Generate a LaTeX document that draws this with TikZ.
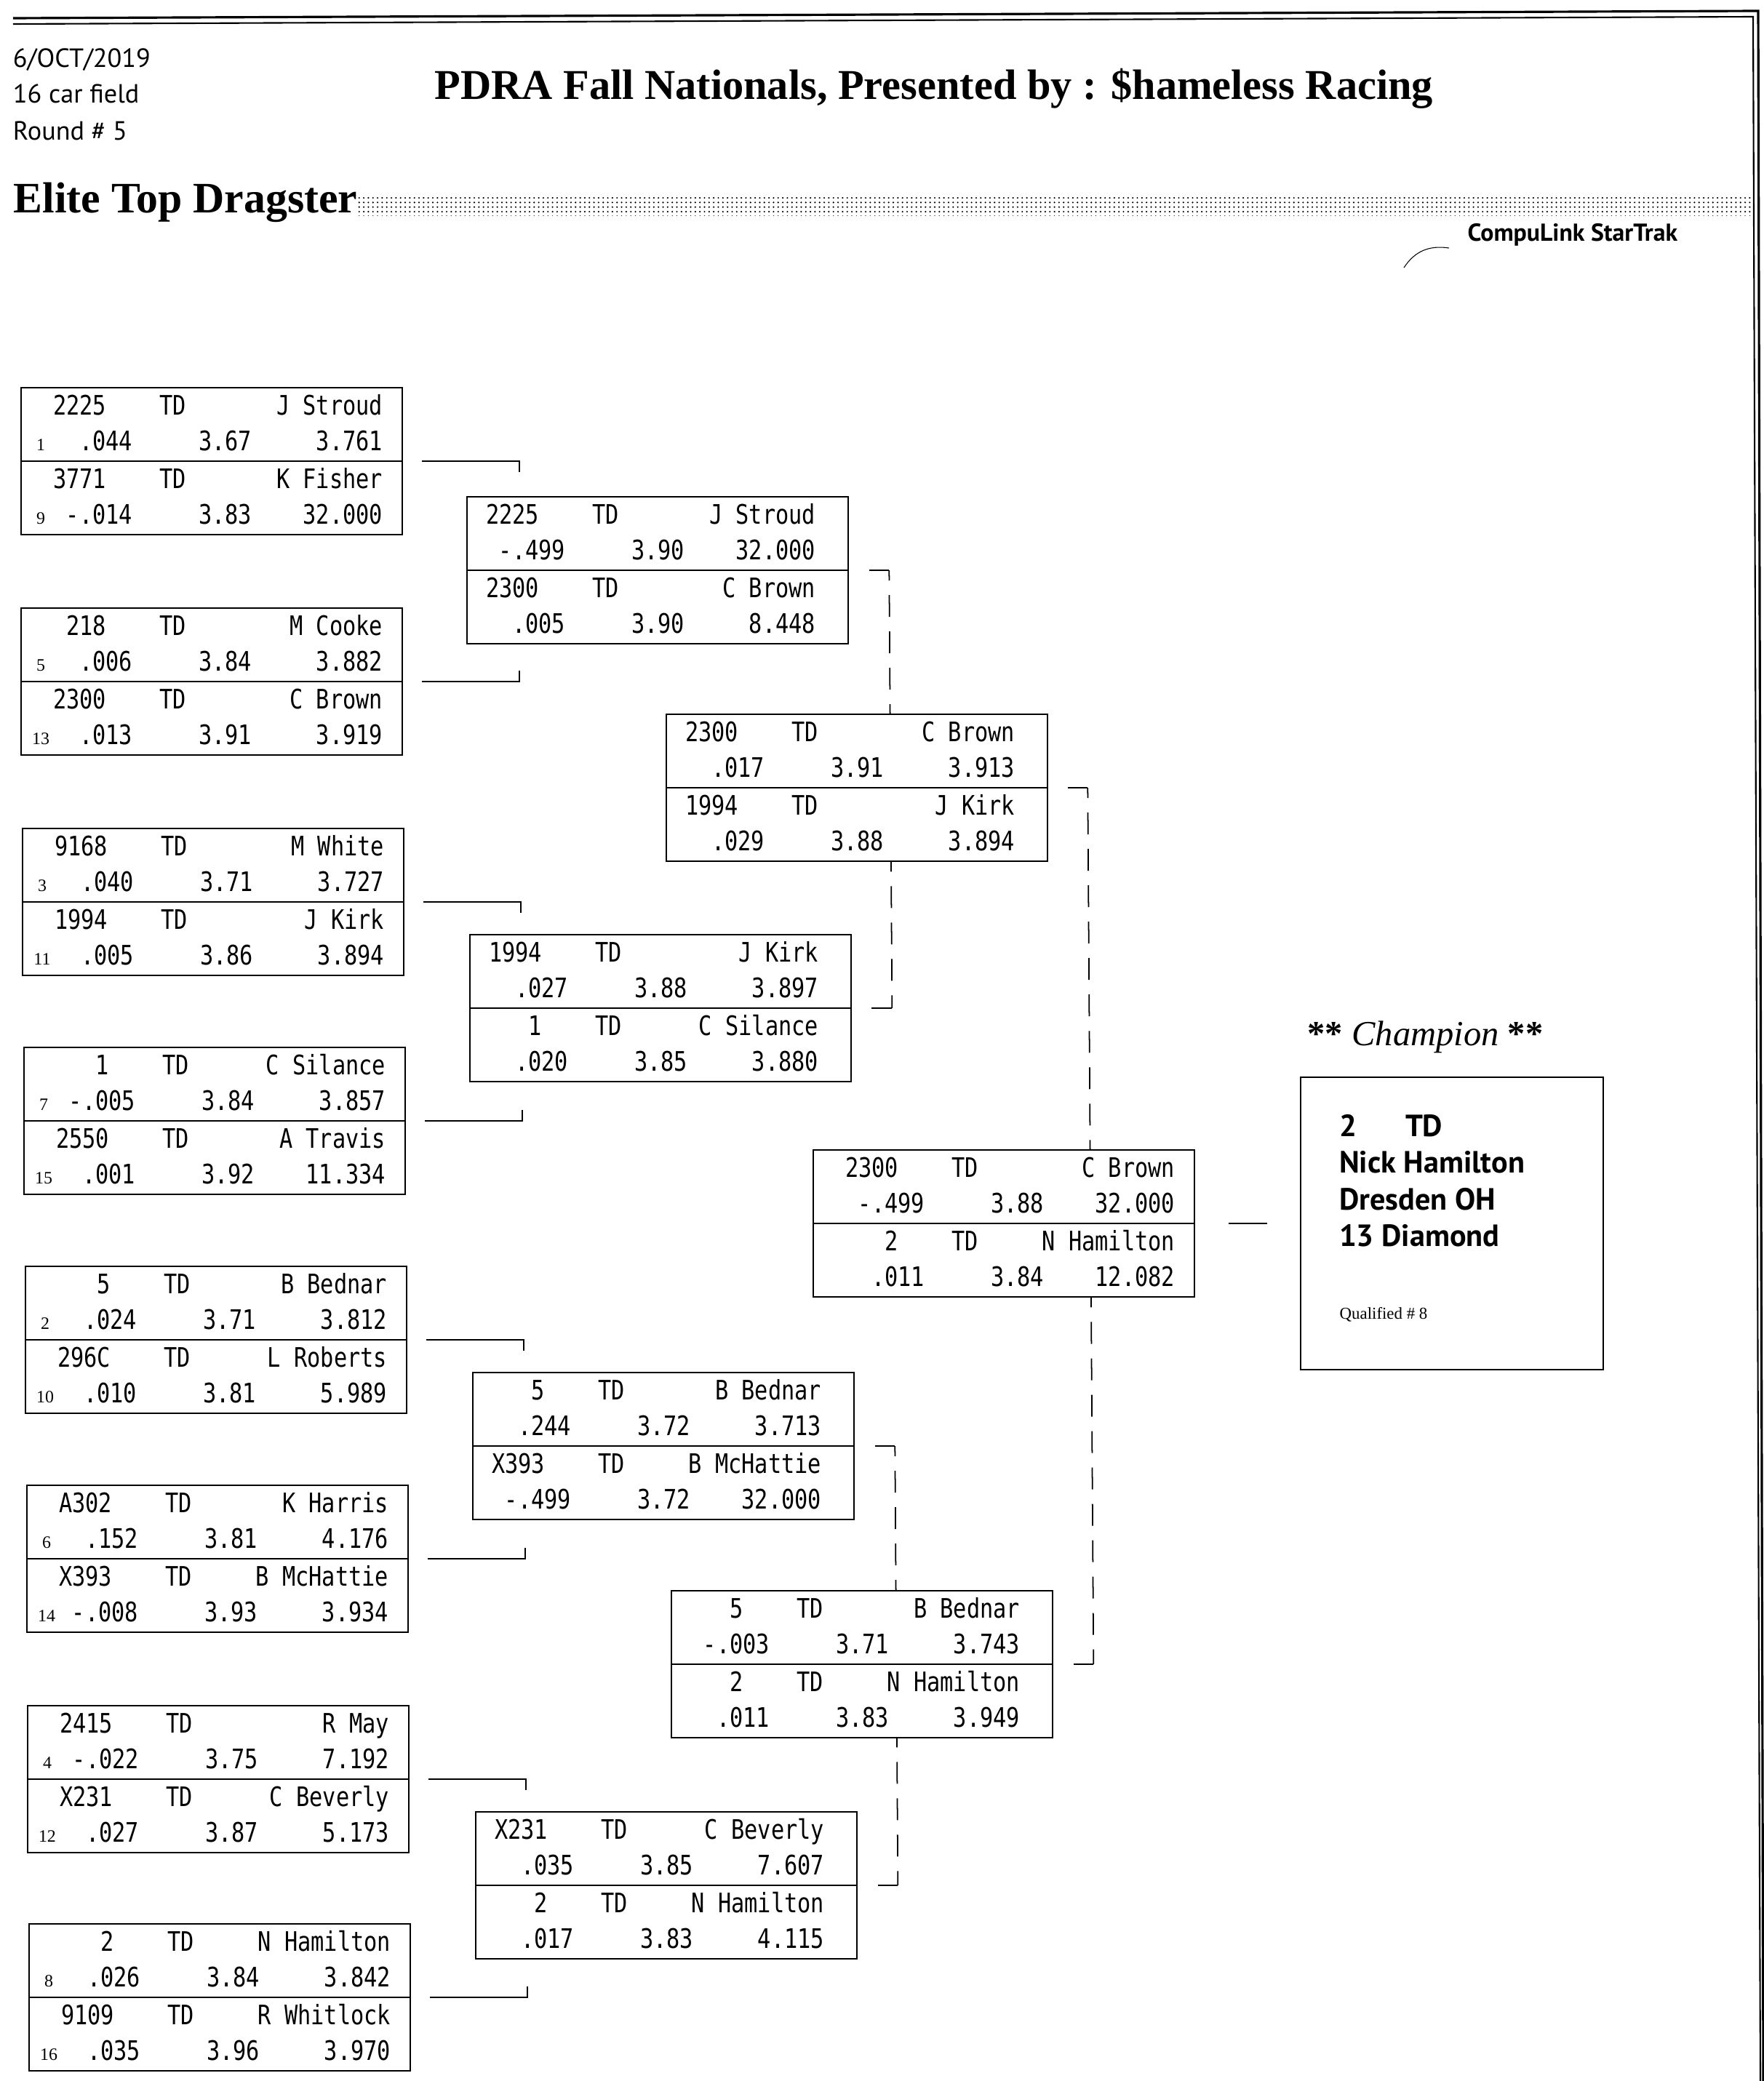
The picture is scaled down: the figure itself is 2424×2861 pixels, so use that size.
\documentclass[tikz,border=0pt]{standalone}
\usepackage{fontspec}
\setmainfont{Liberation Serif}
\newfontfamily\boxfont[FakeStretch=0.82]{DejaVu Sans Mono}
\newfontfamily\hdrfont{PT Sans}
\usetikzlibrary{calc,patterns.meta}

\tikzset{
  boxst/.style={draw, fill=white, line width=0.6pt, minimum width=5.24cm, minimum height=2.02cm, inner sep=0pt, outer sep=0pt},
  divst/.style={line width=0.6pt},
  cell/.style={inner sep=0pt, outer sep=0pt, font=\boxfont\fontsize{10.5}{12}\selectfont},
  seedst/.style={inner sep=0pt, outer sep=0pt, anchor=base, font=\fontsize{6.8}{8}\selectfont},
  conn/.style={line width=0.5pt},
  dconn/.style={line width=0.5pt, dash pattern=on 3mm off 2mm, dash phase=1.6mm},
  hdr/.style={inner sep=0pt, outer sep=0pt, anchor=base west, font=\hdrfont\fontsize{10.3}{12}\selectfont},
  champtxt/.style={inner sep=0pt, outer sep=0pt, anchor=base west, font=\hdrfont\bfseries\fontsize{12}{14}\selectfont},
}

\def\xs{0}
% box: name, x, y (top-left in pixels)
\newcommand{\rbox}[3]{%
  \node[boxst, anchor=north west] (#1) at (#2,#3) {};
  \draw[divst] (#1.west) -- (#1.east);
}
% entry: box, half (0/1), car, driver, rt, et, time
\newcommand{\entry}[7]{%
  \coordinate (#1h#2) at ($(#1.north west)+(0,#2*101)$);
  \node[cell, anchor=base east] (#1h#2car) at ($(#1h#2)+(\xs+117,37)$) {#3};
  \node[cell, anchor=base west] (#1h#2cls) at ($(#1h#2)+(\xs+190,37)$) {TD};
  \node[cell, anchor=base east] (#1h#2drv) at ($(#1h#2)+(\xs+497,37)$) {#4};
  \node[cell, anchor=base east] (#1h#2rt) at ($(#1h#2)+(\xs+153,86)$) {#5};
  \node[cell, anchor=base east] (#1h#2et) at ($(#1h#2)+(\xs+317,86)$) {#6};
  \node[cell, anchor=base east] (#1h#2tm) at ($(#1h#2)+(\xs+497,86)$) {#7};
}
% seeded entry: box, half, seed, car, driver, rt, et, time
\newcommand{\sentry}[8]{%
  \entry{#1}{#2}{#4}{#5}{#6}{#7}{#8}%
  \node[seedst] (#1h#2seed) at ($(#1h#2)+(27,86)$) {#3};
}
% first-round bracket end: box, tick direction (+1 down / -1 up)
\newcommand{\rconn}[2]{%
  \draw[conn] ($(#1.east)+(27,0)$) -- ($(#1.east)+(161,0)$) -- ($(#1.east)+(161,#2*15)$);
}

\begin{document}
\begin{tikzpicture}[x=0.01cm, y=-0.01cm]
\useasboundingbox (0,0) rectangle (2424,2861);

% page frame
\draw[line width=0.9pt] (18,25) -- (2417,15) -- (2424,2861);
\draw[line width=0.6pt] (18,33) -- (2410,23) -- (2420,2861);

% header
\node[hdr] (date) at (18,93) {6/OCT/2019};
\node[hdr] (field) at (18,142) {16 car field};
\node[hdr] (round) at (18,193) {Round \# 5};
\node[inner sep=0pt, anchor=base west, font=\bfseries\fontsize{16.6}{19}\selectfont] (title) at (597,137) {PDRA Fall Nationals, Presented by : \$hameless Racing};
\node[inner sep=0pt, anchor=base west, font=\bfseries\fontsize{17}{20}\selectfont] (class) at (18,293) {Elite Top Dragster};
\fill[pattern={Dots[distance=1.8pt, radius=0.34pt]}] (491,272) rectangle (2411,297);
\node[inner sep=0pt, anchor=base west, font=\hdrfont\bfseries\fontsize{9.6}{11}\selectfont] (logo) at (2017,332) {CompuLink StarTrak};
\draw[line width=0.3pt] (1930,368) .. controls (1945,345) and (1965,337) .. (1992,341);

% round 1
\rbox{B1}{29}{533}
\sentry{B1}{0}{1}{2225}{J Stroud}{.044}{3.67}{3.761}
\sentry{B1}{1}{9}{3771}{K Fisher}{-.014}{3.83}{32.000}
\rbox{B2}{29}{836}
\sentry{B2}{0}{5}{218}{M Cooke}{.006}{3.84}{3.882}
\sentry{B2}{1}{13}{2300}{C Brown}{.013}{3.91}{3.919}
\rbox{B3}{31}{1139}
\sentry{B3}{0}{3}{9168}{M White}{.040}{3.71}{3.727}
\sentry{B3}{1}{11}{1994}{J Kirk}{.005}{3.86}{3.894}
\rbox{B4}{33}{1440}
\sentry{B4}{0}{7}{1}{C Silance}{-.005}{3.84}{3.857}
\sentry{B4}{1}{15}{2550}{A Travis}{.001}{3.92}{11.334}
\rbox{B5}{35}{1741}
\sentry{B5}{0}{2}{5}{B Bednar}{.024}{3.71}{3.812}
\sentry{B5}{1}{10}{296C}{L Roberts}{.010}{3.81}{5.989}
\rbox{B6}{37}{2042}
\sentry{B6}{0}{6}{A302}{K Harris}{.152}{3.81}{4.176}
\sentry{B6}{1}{14}{X393}{B McHattie}{-.008}{3.93}{3.934}
\rbox{B7}{38}{2345}
\sentry{B7}{0}{4}{2415}{R May}{-.022}{3.75}{7.192}
\sentry{B7}{1}{12}{X231}{C Beverly}{.027}{3.87}{5.173}
\rbox{B8}{40}{2645}
\sentry{B8}{0}{8}{2}{N Hamilton}{.026}{3.84}{3.842}
\sentry{B8}{1}{16}{9109}{R Whitlock}{.035}{3.96}{3.970}

\rconn{B1}{1}\rconn{B2}{-1}
\rconn{B3}{1}\rconn{B4}{-1}
\rconn{B5}{1}\rconn{B6}{-1}
\rconn{B7}{1}\rconn{B8}{-1}

% round 2
\def\xs{-18}
\rbox{C1}{642}{683}
\entry{C1}{0}{2225}{J Stroud}{-.499}{3.90}{32.000}
\entry{C1}{1}{2300}{C Brown}{.005}{3.90}{8.448}
\rbox{C2}{646}{1285}
\entry{C2}{0}{1994}{J Kirk}{.027}{3.88}{3.897}
\entry{C2}{1}{1}{C Silance}{.020}{3.85}{3.880}
\rbox{C3}{650}{1887}
\entry{C3}{0}{5}{B Bednar}{.244}{3.72}{3.713}
\entry{C3}{1}{X393}{B McHattie}{-.499}{3.72}{32.000}
\rbox{C4}{654}{2491}
\entry{C4}{0}{X231}{C Beverly}{.035}{3.85}{7.607}
\entry{C4}{1}{2}{N Hamilton}{.017}{3.83}{4.115}

% connectors round 2 -> 3
\draw[conn] ($(C1.east)+(29,0)$) -- ($(C1.east)+(56,0)$) coordinate (C1c);
\draw[conn] ($(C2.east)+(28,0)$) -- ($(C2.east)+(56,0)$) coordinate (C2c);
\draw[dconn] (C1c) -- (C2c);
\draw[conn] ($(C3.east)+(29,0)$) -- ($(C3.east)+(56,0)$) coordinate (C3c);
\draw[conn] ($(C4.east)+(29,0)$) -- ($(C4.east)+(56,0)$) coordinate (C4c);
\draw[dconn] (C3c) -- (C4c);

% round 3
\rbox{D1}{916}{982}
\entry{D1}{0}{2300}{C Brown}{.017}{3.91}{3.913}
\entry{D1}{1}{1994}{J Kirk}{.029}{3.88}{3.894}
\rbox{D2}{923}{2187}
\entry{D2}{0}{5}{B Bednar}{-.003}{3.71}{3.743}
\entry{D2}{1}{2}{N Hamilton}{.011}{3.83}{3.949}

\draw[conn] ($(D1.east)+(28,0)$) -- ($(D1.east)+(55,0)$) coordinate (D1c);
\draw[conn] ($(D2.east)+(29,0)$) -- ($(D2.east)+(56,0)$) coordinate (D2c);
\draw[dconn] (D1c) -- (D2c);

% final
\def\xs{0}
\rbox{E}{1118}{1581}
\entry{E}{0}{2300}{C Brown}{-.499}{3.88}{32.000}
\entry{E}{1}{2}{N Hamilton}{.011}{3.84}{12.082}

% champion
\node[draw, line width=0.6pt, minimum width=4.16cm, minimum height=4.02cm, inner sep=0pt, anchor=north west] (champ) at (1787,1480) {};
\draw[conn] ($(E.east)+(47,0)$) -- ($(E.east)+(100,0)$);
\node[inner sep=0pt, anchor=base west, font=\itshape\fontsize{13.8}{16}\selectfont] (champhead) at (1797,1437) {{\upshape\bfseries **} Champion {\upshape\bfseries **}};
\node[champtxt] (cnum) at (1841,1562) {2};
\node[champtxt] (ccls) at (1932,1562) {TD};
\node[champtxt] (cname) at (1841,1612) {Nick Hamilton};
\node[champtxt] (ctown) at (1841,1663) {Dresden OH};
\node[champtxt] (cteam) at (1841,1713) {13 Diamond};
\node[inner sep=0pt, anchor=base west, font=\fontsize{6.5}{8}\selectfont] (cqual) at (1841,1813) {Qualified \# 8};
\end{tikzpicture}
\end{document}
